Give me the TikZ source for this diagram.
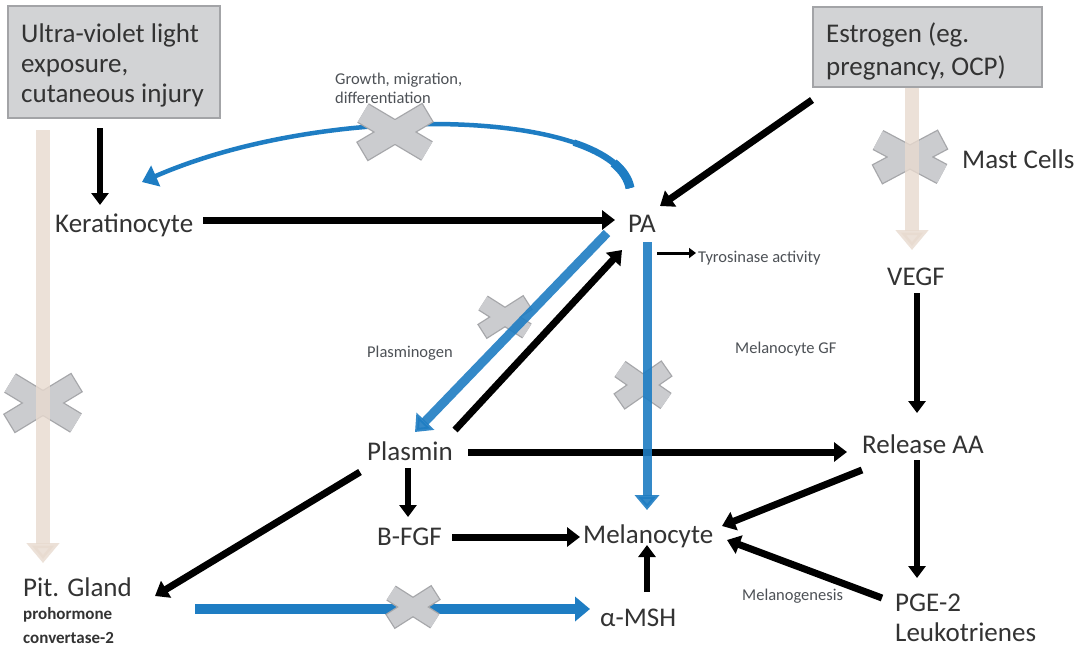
\documentclass[tikz,border=0pt]{standalone}
\usepackage{fontspec}
\setmainfont{Carlito}
\usetikzlibrary{arrows.meta}
\definecolor{boxfill}{HTML}{D2D3D5}
\definecolor{boxedge}{HTML}{A3A4A7}
\definecolor{txtc}{HTML}{333333}
\definecolor{smlc}{HTML}{4D5156}
\definecolor{bluec}{HTML}{1E7DC3}
\definecolor{beigec}{HTML}{E8DACF}
\definecolor{crossfill}{HTML}{CBCCCF}
\definecolor{crossedge}{HTML}{A6A7AA}
\newcommand{\mycross}[5]{%
  \begin{scope}[shift={(#1,#2)}]
    \draw[line width=#5+2.6, draw=crossedge, shorten <=-1.3pt, shorten >=-1.3pt] (-#3,-#4) -- (#3,#4) (-#3,#4) -- (#3,-#4);
    \draw[line width=#5, draw=crossfill] (-#3,-#4) -- (#3,#4) (-#3,#4) -- (#3,-#4);
  \end{scope}}
\tikzset{
  lbl/.style={text=txtc, inner sep=0pt, anchor=base west, font=\fontsize{27}{30}\selectfont},
  boxlbl/.style={text=txtc, inner sep=0pt, anchor=base west, font=\fontsize{27}{30}\selectfont},
  sml/.style={text=smlc, inner sep=0pt, anchor=base west, font=\fontsize{16.5}{19}\selectfont},
  blk/.style={draw=black, line width=7pt, -{Triangle[length=13pt,width=19pt]}},
  blkthin/.style={draw=black, line width=5.5pt, -{Triangle[length=12pt,width=17pt]}},
  blu/.style={draw=bluec, line width=9pt, -{Triangle[length=15pt,width=24pt]}},
  beig/.style={draw=beigec, line width=14pt, -{Triangle[length=20pt,width=32pt]}},
  gbox/.style={fill=boxfill, draw=boxedge, line width=1.5pt}
}
\begin{document}
\begin{tikzpicture}[x=1pt,y=-1pt]
\useasboundingbox[fill=white] (0,0) rectangle (1084,646);

% boxes
\draw[gbox] (8,6) rectangle (220,118);
\node[boxlbl] (uv1) at (21,42) {Ultra-violet light};
\node[boxlbl] (uv2) at (21,72) {exposure,};
\node[boxlbl] (uv3) at (21,102) {cutaneous injury};
\draw[gbox] (813,7) rectangle (1042,87);
\node[boxlbl] (es1) at (826,42) {Estrogen (eg.};
\node[boxlbl] (es2) at (826,75) {pregnancy, OCP)};

% labels
\node[lbl] (kera) at (55,232) {Keratinocyte};
\node[lbl] (pa) at (628,232) {PA};
\node[sml] (tyr) at (698,262) {Tyrosinase activity};
\node[sml] (mgf) at (735,353) {Melanocyte GF};
\node[sml] (plg) at (367,357) {Plasminogen};
\node[lbl] (plasmin) at (367,460) {Plasmin};
\node[lbl] (bfgf) at (377,545) {B-FGF};
\node[lbl] (mel) at (583,543) {Melanocyte};
\node[lbl] (rel) at (862,453) {Release AA};
\node[lbl] (vegf) at (887,285) {VEGF};
\node[lbl] (mast) at (962,168) {Mast Cells};
\node[lbl] (pge) at (895,611) {PGE-2};
\node[lbl] (leuk) at (895,641) {Leukotrienes};
\node[lbl] (msh) at (600,626) {α-MSH};
\node[sml] (melg) at (742,600) {Melanogenesis};
\node[lbl] (pit) at (23,596) {Pit. Gland};
\node[text=txtc, inner sep=0pt, anchor=base west, font=\fontsize{17}{20}\selectfont\bfseries] (proh) at (23,619) {prohormone};
\node[text=txtc, inner sep=0pt, anchor=base west, font=\fontsize{17}{20}\selectfont\bfseries] (conv) at (23,643) {convertase-2};
\node[sml] (grow1) at (335,84) {Growth, migration,};
\node[sml] (grow2) at (335,103) {differentiation};

% beige (blocked) arrows
\mycross{43}{403}{33}{20}{20}
\mycross{910}{157}{32}{17}{20}
\coordinate (lb-top) at (43,130);
\coordinate (lb-bot) at (43,563);
\coordinate (rb-top) at (912,88);
\coordinate (rb-bot) at (912,250);
\draw[beig, opacity=0.8] (lb-top) -- (lb-bot);
\draw[beig, opacity=0.8] (rb-top) -- (rb-bot);

% blue arc (tapered: thick at PA end)
\coordinate (arc-s) at (630,188);
\coordinate (arc-e) at (142,182);
\draw[draw=bluec, line width=4.5pt, -{Triangle[length=15pt,width=22pt]}] (arc-s) .. controls (615,110) and (330,100) .. (arc-e);
\draw[draw=bluec, line width=6.5pt] (arc-s) .. controls (626.25,168.5) and (605.6,153.25) .. (573.8,142.6);
\draw[draw=bluec, line width=9pt] (arc-s) .. controls (628.2,178.6) and (622.5,170.3) .. (613.6,162.9);
\mycross{395}{132}{32}{19}{20}

% black arrows
\coordinate (uv-b) at (100,128);
\coordinate (kera-t) at (100,205);
\draw[blkthin] (uv-b) -- (kera-t);
\coordinate (kera-r) at (203,220);
\coordinate (pa-l) at (615,220);
\draw[blk] (kera-r) -- (pa-l);
\coordinate (est-bl) at (812,100);
\coordinate (pa-ur) at (660,206);
\draw[blk] (est-bl) -- (pa-ur);
\coordinate (tyr-s) at (657,253);
\coordinate (tyr-e) at (696,253);
\draw[draw=black, line width=3pt, -{Triangle[length=7pt,width=10pt]}] (tyr-s) -- (tyr-e);
\coordinate (pls-ur) at (455,430);
\coordinate (pa-ll) at (622,250);
\draw[blk] (pls-ur) -- (pa-ll);
\coordinate (pls-r) at (468,452);
\coordinate (rel-l) at (847,452);
\draw[blk] (pls-r) -- (rel-l);
\coordinate (pls-b) at (408,468);
\coordinate (bfgf-t) at (408,517);
\draw[blkthin] (pls-b) -- (bfgf-t);
\coordinate (bfgf-r) at (452,537);
\coordinate (mel-l) at (580,537);
\draw[blk] (bfgf-r) -- (mel-l);
\coordinate (pls-ll) at (360,472);
\coordinate (pit-r) at (155,596);
\draw[blk] (pls-ll) -- (pit-r);
\coordinate (msh-t) at (647,592);
\coordinate (mel-b) at (647,545);
\draw[blkthin] (msh-t) -- (mel-b);
\coordinate (vegf-b) at (917,293);
\coordinate (rel-t) at (917,413);
\draw[blkthin] (vegf-b) -- (rel-t);
\coordinate (rel-b) at (917,460);
\coordinate (pge-t) at (917,578);
\draw[blkthin] (rel-b) -- (pge-t);
\coordinate (rel-ll) at (862,470);
\coordinate (mel-r1) at (722,526);
\draw[blk] (rel-ll) -- (mel-r1);
\coordinate (pge-l) at (882,598);
\coordinate (mel-r2) at (727,540);
\draw[blk] (pge-l) -- (mel-r2);

% blue arrows with crosses
\mycross{505}{317}{22}{14}{15}
\coordinate (pa-bl) at (607,233);
\coordinate (pls-t) at (415,432);
\draw[blu, opacity=0.9] (pa-bl) -- (pls-t);
\mycross{643}{385}{23}{16}{17}
\coordinate (pa-b) at (647,242);
\coordinate (mel-t) at (647,510);
\draw[blu, opacity=0.9] (pa-b) -- (mel-t);
\coordinate (pit-rb) at (195,609);
\coordinate (msh-l) at (590,609);
\draw[blu, line width=10pt] (pit-rb) -- (msh-l);
\mycross{413}{607}{22}{14}{15}
\end{tikzpicture}
\end{document}
